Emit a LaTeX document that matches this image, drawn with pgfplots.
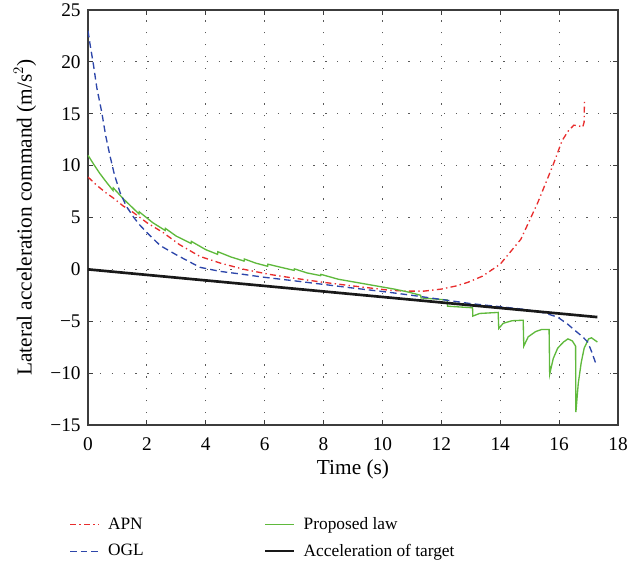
\documentclass[border=0pt]{standalone}
\usepackage{pgfplots}
\pgfplotsset{compat=1.18}
\usepackage{fontspec}
\setmainfont{Liberation Serif}

\definecolor{apnred}{RGB}{232,45,45}
\definecolor{oglblue}{RGB}{45,70,170}
\definecolor{lawgreen}{RGB}{95,185,60}
\definecolor{axgray}{RGB}{60,60,60}

\begin{document}
\begin{tikzpicture}
\useasboundingbox (-66pt,-106.5pt) rectangle (415.5pt,318.75pt);
\begin{axis}[
  scale only axis,
  width=397.5pt, height=311.25pt,
  xmin=0, xmax=18, ymin=-15, ymax=25,
  xtick={0,2,...,18}, ytick={-15,-10,...,25},
  yticklabels={−15,−10,−5,0,5,10,15,20,25},
  /pgf/number format/assume math mode=true,
  tick label style={font=\fontsize{14.5}{16}\selectfont},
  xticklabel style={yshift=-6pt},
  yticklabel style={xshift=-2pt},
  label style={font=\fontsize{16}{18}\selectfont},
  xlabel={Time (s)},
  ylabel={Lateral acceleration command (m/s$^2$)},
  xlabel style={at={(axis description cs:0.5,-0.108)}, anchor=center},
  ylabel style={at={(axis description cs:-0.119,0.5)}, anchor=center},
  tick align=inside, tick pos=both,
  major tick length=4pt,
  axis line style={axgray, line width=0.8pt},
  every tick/.style={axgray, line width=0.6pt},
  grid=major,
  major grid style={black!65, line width=0.9pt, dash pattern=on 0.9pt off 8pt},
  legend columns=2,
  legend cell align=left,
  legend style={draw=none, fill=none, at={(0,0)}, anchor=north west,
    xshift=-17pt, yshift=-65.5pt, font=\fontsize{13}{15}\selectfont,
    row sep=5pt, /tikz/column 2/.style={column sep=88pt}},
  legend image code/.code={\draw[#1, line width=0.7pt] (0pt,0pt) -- (22pt,0pt); \path (26pt,0pt);},
]
% APN
\addplot[apnred, line width=1pt, dash pattern=on 4.5pt off 2.5pt on 1pt off 2.5pt] coordinates {
(0,8.9) (0.3,8.1) (0.6,7.4) (0.85,6.9) (1.2,6.1) (1.53,5.5) (2.0,4.5)
(2.55,3.55) (3.1,2.4) (3.8,1.25) (4.5,0.6) (5.3,0.0) (6.2,-0.5) (7.0,-0.85)
(8.0,-1.25) (9.0,-1.6) (10.2,-2.0) (10.8,-2.1) (11.4,-2.1) (12.0,-1.9)
(12.5,-1.6) (12.9,-1.25) (13.4,-0.65) (14.0,0.5) (14.7,2.9) (15.27,6.4)
(15.8,10.1) (16.1,12.4) (16.3,13.3) (16.5,13.9) (16.7,13.8) (16.8,13.7)
(16.85,14.2) (16.86,16.2)
};
\addlegendentry{APN}
% Proposed law
\addplot[lawgreen, line width=1pt] coordinates {
(0,11.0) (0.2,10.1) (0.4,9.25) (0.6,8.5) (0.85,7.6) (0.86,7.85) (1.2,6.8)
(1.73,5.35) (1.74,5.55) (2.2,4.5) (2.62,3.75) (2.63,3.95) (3.0,3.2)
(3.5,2.5) (3.51,2.7) (4.0,1.9) (4.4,1.45) (4.41,1.7) (4.85,1.2)
(5.3,0.8) (5.31,1.0) (5.7,0.6) (6.1,0.3) (6.11,0.5) (6.55,0.2)
(7.0,-0.1) (7.01,0.05) (7.45,-0.35) (7.9,-0.6) (7.91,-0.48) (8.5,-0.95)
(9.0,-1.2) (9.5,-1.45) (10.0,-1.7) (10.4,-1.9) (10.9,-2.2) (11.3,-2.5)
(11.31,-2.75) (12.2,-2.95) (12.21,-3.55) (13.06,-3.7) (13.07,-4.5)
(13.3,-4.25) (13.93,-4.15) (13.95,-5.7) (14.1,-5.2) (14.4,-4.95)
(14.78,-4.9) (14.8,-7.4) (14.95,-6.5) (15.2,-6.0) (15.4,-5.8) (15.66,-5.8)
(15.68,-10.1) (15.8,-8.6) (15.95,-7.6) (16.15,-7.0) (16.3,-6.7)
(16.45,-6.9) (16.56,-7.4) (16.57,-13.75) (16.65,-11.0) (16.75,-9.0)
(16.85,-7.6) (17.0,-6.7) (17.1,-6.6) (17.2,-6.8) (17.3,-7.0)
};
\addlegendentry{Proposed law}
% OGL
\addplot[oglblue, line width=1pt, dash pattern=on 5pt off 3pt] coordinates {
(0,23.0) (0.08,21.5) (0.17,20.0) (0.3,17.5) (0.47,15.1) (0.6,12.9)
(0.75,10.9) (0.9,9.1) (1.09,7.4) (1.3,6.1) (1.53,5.1) (1.75,4.3)
(2.0,3.55) (2.45,2.3) (3.0,1.4) (3.8,0.2) (4.5,-0.2) (5.2,-0.45)
(5.95,-0.75) (7.0,-1.1) (8.0,-1.45) (9.0,-1.8) (10.2,-2.2) (11.0,-2.5)
(12.0,-2.9) (13.0,-3.3) (14.0,-3.6) (14.8,-3.85) (15.5,-4.2) (15.95,-4.6)
(16.3,-5.3) (16.5,-5.8) (16.8,-6.5) (16.97,-7.0) (17.1,-7.9) (17.25,-9.1)
};
\addlegendentry{OGL}
% Target acceleration
\addplot[black!90, line width=2pt, legend image code/.code={\draw[black!90, line width=2pt] (0pt,0pt) -- (22pt,0pt); \path (26pt,0pt);}] coordinates {(0,0) (17.3,-4.6)};
\addlegendentry{Acceleration of target}
\end{axis}
\end{tikzpicture}
\end{document}
